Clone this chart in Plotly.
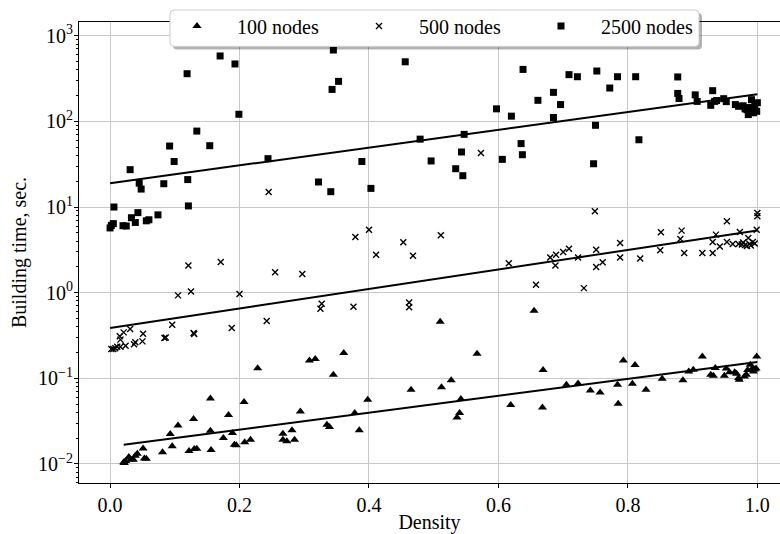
import plotly.graph_objects as go

# ---------------- data ----------------
tri_density = [0.021, 0.022, 0.024, 0.029, 0.032, 0.036, 0.039, 0.042, 0.051, 0.053,
               0.056, 0.081, 0.093, 0.096, 0.105, 0.122, 0.129, 0.130, 0.134, 0.155,
               0.155, 0.156, 0.175, 0.183, 0.189, 0.192, 0.195, 0.207, 0.208, 0.217,
               0.228, 0.267, 0.267, 0.273, 0.281, 0.285, 0.294, 0.308, 0.317, 0.335,
               0.339, 0.345, 0.361, 0.378, 0.385, 0.398, 0.465, 0.510, 0.512, 0.527,
               0.536, 0.540, 0.542, 0.567, 0.619, 0.655, 0.668, 0.669, 0.705, 0.723,
               0.742, 0.757, 0.784, 0.785, 0.793, 0.807, 0.811, 0.828, 0.853, 0.885,
               0.894, 0.901, 0.915, 0.928, 0.932, 0.935, 0.949, 0.952, 0.957, 0.965,
               0.968, 0.971, 0.983, 0.985, 0.989, 0.993, 0.996, 0.999, 0.998, 0.972,
               0.980, 0.994]
tri_time = [0.0105, 0.0103, 0.0108, 0.0121, 0.0113, 0.0112, 0.0125, 0.0132, 0.0152, 0.0116,
            0.0115, 0.0137, 0.0224, 0.0161, 0.0282, 0.0142, 0.0335, 0.0150, 0.0151, 0.058,
            0.0245, 0.0146, 0.0201, 0.0373, 0.0230, 0.0168, 0.0165, 0.053, 0.0179, 0.0192,
            0.131, 0.0226, 0.0192, 0.0184, 0.0247, 0.0192, 0.041, 0.162, 0.168, 0.0288,
            0.0270, 0.110, 0.198, 0.0394, 0.0247, 0.0562, 0.0736, 0.458, 0.0785, 0.0947,
            0.035, 0.0394, 0.0574, 0.194, 0.0489, 0.617, 0.0458, 0.125, 0.0843, 0.0873,
            0.0723, 0.0685, 0.0843, 0.0506, 0.161, 0.0866, 0.143, 0.0736, 0.099, 0.0947,
            0.120, 0.126, 0.180, 0.110, 0.107, 0.132, 0.107, 0.130, 0.118, 0.118,
            0.113, 0.101, 0.110, 0.125, 0.144, 0.132, 0.127, 0.180, 0.130, 0.096,
            0.105, 0.120]

x500_density = [0.002, 0.005, 0.008, 0.011, 0.015, 0.016, 0.016, 0.021, 0.024, 0.031,
                0.037, 0.039, 0.050, 0.051, 0.084, 0.086, 0.096, 0.105, 0.121, 0.125,
                0.129, 0.130, 0.171, 0.188, 0.200, 0.242, 0.245, 0.255, 0.297, 0.325,
                0.327, 0.376, 0.379, 0.400, 0.411, 0.453, 0.462, 0.462, 0.468, 0.511,
                0.573, 0.616, 0.658, 0.680, 0.688, 0.689, 0.700, 0.709, 0.723, 0.732,
                0.749, 0.751, 0.751, 0.761, 0.788, 0.788, 0.819, 0.850, 0.851, 0.881,
                0.883, 0.887, 0.915, 0.931, 0.931, 0.936, 0.942, 0.953, 0.953, 0.962,
                0.971, 0.973, 0.976, 0.981, 0.986, 0.988, 0.993, 0.996, 0.999, 1.000,
                1.000, 0.984, 0.990, 0.978]
x500_time = [0.220, 0.220, 0.225, 0.233, 0.310, 0.283, 0.233, 0.344, 0.240, 0.377,
             0.250, 0.263, 0.270, 0.332, 0.295, 0.300, 0.423, 0.930, 2.08, 1.035,
             0.338, 0.330, 2.28, 0.387, 0.965, 0.467, 15.0, 1.73, 1.65, 0.650,
             0.743, 0.685, 4.47, 5.43, 2.77, 3.87, 0.770, 0.675, 2.70, 4.67,
             42.7, 2.20, 1.24, 2.58, 2.08, 2.77, 2.98, 3.26, 2.58, 1.13,
             8.9, 3.18, 2.00, 2.26, 3.80, 2.58, 2.50, 3.12, 5.06, 4.24,
             5.30, 2.90, 2.90, 2.90, 3.90, 4.76, 3.47, 6.80, 3.90, 3.70,
             3.70, 5.10, 3.65, 3.60, 4.35, 3.70, 3.90, 3.75, 5.43, 8.50,
             7.80, 3.50, 3.55, 3.85]

sq_density = [0.000, 0.005, 0.006, 0.002, 0.020, 0.025, 0.031, 0.033, 0.039, 0.043,
              0.045, 0.048, 0.056, 0.060, 0.074, 0.083, 0.092, 0.099, 0.119, 0.120,
              0.121, 0.134, 0.154, 0.170, 0.193, 0.199, 0.244, 0.322, 0.341, 0.343,
              0.345, 0.353, 0.389, 0.403, 0.456, 0.479, 0.494, 0.496, 0.534, 0.543,
              0.545, 0.547, 0.597, 0.606, 0.620, 0.635, 0.637, 0.638, 0.661, 0.685,
              0.685, 0.696, 0.709, 0.722, 0.747, 0.750, 0.752, 0.772, 0.784, 0.812,
              0.817, 0.877, 0.877, 0.879, 0.904, 0.907, 0.928, 0.931, 0.934, 0.937,
              0.948, 0.952, 0.966, 0.971, 0.978, 0.984, 0.986, 0.991, 0.992, 0.996,
              0.999, 1.000, 0.994, 0.988, 0.981]
sq_time = [5.7, 6.4, 10.0, 6.1, 6.05, 6.0, 27.3, 7.5, 6.6, 8.6,
           19.0, 16.2, 6.9, 7.1, 8.1, 18.7, 51.5, 34.0, 360, 20.9,
           10.3, 77, 52, 580, 468, 121, 36.7, 19.6, 15.1, 236,
           681, 293, 34.0, 16.5, 496, 62, 833, 34.5, 28.0, 43.9,
           23.2, 70.5, 140, 36.0, 115, 55, 40.8, 404, 176, 218,
           111, 157, 351, 332, 32.0, 90, 387, 245, 332, 332,
           61, 330, 212, 185, 204, 171, 154, 228, 171, 175,
           184, 170, 157, 150, 152, 137, 120, 179, 140, 150,
           131, 165, 126, 145, 140]

# fitted trend lines (endpoints)
trend_tri_density = [0.021, 1.0]
trend_tri_time = [0.0168, 0.155]
trend_x500_density = [0.0, 1.0]
trend_x500_time = [0.387, 5.33]
trend_sq_density = [0.0, 1.0]
trend_sq_time = [19.0, 207.0]

x_tick_vals = [0.0, 0.2, 0.4, 0.6, 0.8, 1.0]
x_tick_text = ["0.0", "0.2", "0.4", "0.6", "0.8", "1.0"]
y_tick_vals = [0.01, 0.1, 1, 10, 100, 1000]
y_tick_text = ["10<sup>\u22122</sup>", "10<sup>\u22121</sup>", "10<sup>0</sup>",
               "10<sup>1</sup>", "10<sup>2</sup>", "10<sup>3</sup>"]
y_minor_vals = [m * d for d in [0.001, 0.01, 0.1, 1, 10, 100, 1000] for m in range(2, 10)]
series_names = ["100 nodes", "500 nodes", "2500 nodes"]

FONT = "Liberation Serif"
TXT = dict(family=FONT, size=20, color="black")

fig = go.Figure()

for xs, ys in [(trend_tri_density, trend_tri_time),
               (trend_x500_density, trend_x500_time),
               (trend_sq_density, trend_sq_time)]:
    fig.add_trace(go.Scatter(x=xs, y=ys, mode="lines",
                             line=dict(color="black", width=2),
                             showlegend=False, hoverinfo="skip"))

fig.add_trace(go.Scatter(x=tri_density, y=tri_time, mode="markers", name=series_names[0],
                         marker=dict(symbol="triangle-up", size=8, color="black")))
fig.add_trace(go.Scatter(x=x500_density, y=x500_time, mode="markers", name=series_names[1],
                         marker=dict(symbol="x-thin", size=6, color="black",
                                     line=dict(color="black", width=1.4))))
fig.add_trace(go.Scatter(x=sq_density, y=sq_time, mode="markers", name=series_names[2],
                         marker=dict(symbol="square", size=7, color="black")))

# plot-area geometry (pixels)
L, R, T, B = 79, 780, 22, 483.3
W, H = R - L, B - T

def px2paper(px, py):
    return (px - L) / W, (B - py) / H

def rounded_rect(x0, y0, x1, y1, r):
    rx, ry = r / W, r / H
    a0, b1 = px2paper(x0, y0)
    a1, b0 = px2paper(x1, y1)
    return (f"M {a0+rx},{b0} L {a1-rx},{b0} Q {a1},{b0} {a1},{b0+ry} "
            f"L {a1},{b1-ry} Q {a1},{b1} {a1-rx},{b1} L {a0+rx},{b1} "
            f"Q {a0},{b1} {a0},{b1-ry} L {a0},{b0+ry} Q {a0},{b0} {a0+rx},{b0} Z")

shapes = [
    dict(type="path", xref="paper", yref="paper", layer="above",
         path=rounded_rect(173, 13, 702, 49.4, 4),
         fillcolor="rgba(0,0,0,0.3)", line=dict(width=0)),
    dict(type="path", xref="paper", yref="paper", layer="above",
         path=rounded_rect(170, 10, 699, 46.4, 4),
         fillcolor="white", line=dict(color="#cccccc", width=1)),
]

lx, _ = px2paper(157, 0)
_, ly = px2paper(0, 6.5)

fig.update_layout(
    width=780, height=534,
    margin=dict(l=L, r=0, t=T, b=534 - B, autoexpand=False),
    paper_bgcolor="white", plot_bgcolor="white",
    font=TXT,
    showlegend=True,
    legend=dict(orientation="h", x=lx, y=ly, xanchor="left", yanchor="top",
                bgcolor="rgba(0,0,0,0)", borderwidth=0,
                entrywidth=97, entrywidthmode="pixels", itemwidth=70,
                font=TXT),
    shapes=shapes,
    xaxis=dict(range=[-0.048, 1.035], tickvals=x_tick_vals, ticktext=x_tick_text,
               tickfont=TXT,
               showgrid=True, gridcolor="#c8c8c8", gridwidth=1, zeroline=False,
               showline=True, linecolor="black", linewidth=1, mirror=True,
               ticks="outside", ticklen=4, tickcolor="black",
               title=dict(text="Density", standoff=2, font=TXT)),
    yaxis=dict(type="log", range=[-2.222, 3.16], tickvals=y_tick_vals, ticktext=y_tick_text,
               tickfont=TXT, ticklabelstandoff=-3,
               showgrid=True, gridcolor="#c8c8c8", gridwidth=1, zeroline=False,
               showline=True, linecolor="black", linewidth=1, mirror=False,
               ticks="outside", ticklen=4, tickcolor="black",
               minor=dict(tickmode="array", tickvals=y_minor_vals, ticks="outside",
                          ticklen=2, tickcolor="black", showgrid=False),
               title=dict(text="Building time, sec.", standoff=6, font=TXT)),
)

fig.write_html("out.html", config={"displayModeBar": False},
               post_script="document.body.style.margin='0px';")
